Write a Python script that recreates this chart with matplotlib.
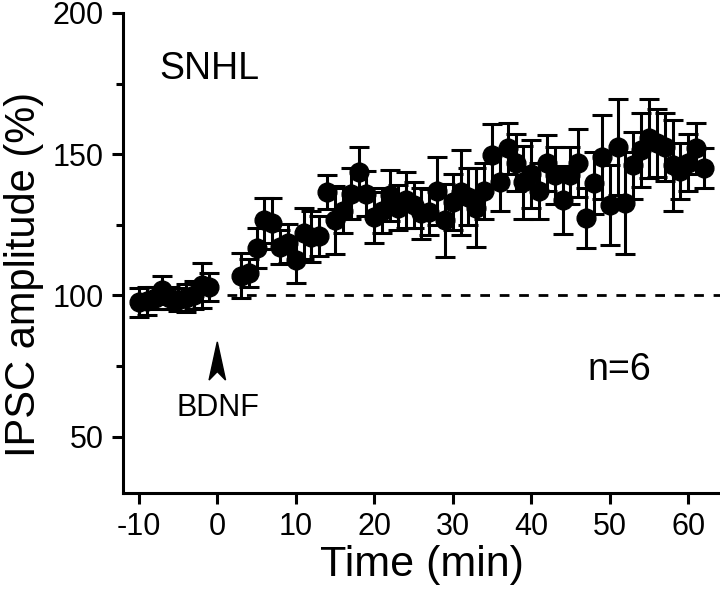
import numpy as np
import matplotlib
matplotlib.use("Agg")
from matplotlib import pyplot as plt
from matplotlib.ticker import MultipleLocator
from matplotlib.patches import Polygon

plt.rcParams['font.family'] = ['Liberation Sans', 'DejaVu Sans']
plt.rcParams['axes.unicode_minus'] = False

# baseline (before BDNF)
t_pre = [-10, -9, -8, -7, -6, -5, -4, -3, -2, -1]
amp_pre = [97.5, 98, 99, 102, 99, 98.5, 99, 100, 103.5, 103]
err_pre = [5, 5, 4, 5, 4, 4, 5, 5, 8, 5]

# after BDNF
t_post = list(range(3, 63))
amp_post = [107, 108, 116.7, 126.6, 125.5, 117, 118.4, 112.4, 122, 120.7,
            121, 136.5, 126.6, 130, 136, 143.6, 136, 127.7, 130, 135.5,
            131, 133.7, 132, 129, 129.5, 137, 126.6, 133, 136.5, 135,
            131, 137, 149.6, 140, 152, 147, 140, 143, 137, 146.8,
            142.5, 133.7, 142.5, 146.8, 127.3, 139.7, 149, 132, 152.5, 132.6,
            146, 151.4, 155.7, 154, 152.5, 146, 144, 147, 152, 145]
err_post = [8, 5, 7, 8, 9, 6, 7, 8, 9, 9,
            7, 6, 12, 8, 9, 9, 8, 9, 8, 9,
            8, 10, 8, 9, 8, 12, 13, 10, 15, 10,
            14, 10, 11, 10, 9, 10, 13, 12, 10, 10,
            10, 12, 10, 12, 10.6, 11, 15, 14, 17, 18,
            12, 13, 14, 12, 12, 16, 10, 10, 9, 7]

t = t_pre + t_post
amp = amp_pre + amp_post
err = err_pre + err_post

fig = plt.figure(figsize=(7.2, 5.89), dpi=100)
ax = fig.add_axes([0.171, 0.163, 0.829, 0.815])

ax.plot([1.2, 65], [100, 100], ls=(0, (3.5, 3.5)), color='black', lw=2, zorder=1)
ax.errorbar(t, amp, yerr=err, fmt='o', color='black', ms=13.5,
            elinewidth=2.2, capsize=7, capthick=2.2, zorder=3)

ax.set_xlim(-12, 64.05)
ax.set_ylim(30, 200)
ax.spines['top'].set_visible(False)
ax.spines['right'].set_visible(False)
ax.spines['left'].set_linewidth(2.2)
ax.spines['bottom'].set_linewidth(2.2)
ax.set_xticks([-10, 0, 10, 20, 30, 40, 50, 60])
ax.set_yticks([50, 100, 150, 200])
ax.yaxis.set_minor_locator(MultipleLocator(25))
ax.tick_params(axis='both', which='major', direction='out', length=8, width=2.2,
               labelsize=22, pad=6)
ax.tick_params(axis='y', which='minor', direction='out', length=5, width=2.2)

ax.set_xlabel('Time (min)', fontsize=31, labelpad=2)
ax.set_ylabel('IPSC amplitude (%)', fontsize=30)
ax.yaxis.set_label_coords(-0.133, 0.455)

ax.text(-7.4, 180, 'SNHL', fontsize=27, va='center', ha='left')
ax.text(47.2, 73.5, 'n=6', fontsize=27, va='center', ha='left')
ax.text(0.1, 60, 'BDNF', fontsize=22, va='center', ha='center')
# arrowhead marking BDNF application
ax.add_patch(Polygon([[0, 83.5], [-1.05, 70], [0, 73], [1.05, 70]],
                     closed=True, color='black', zorder=2))

fig.savefig('out.png', dpi=100)
